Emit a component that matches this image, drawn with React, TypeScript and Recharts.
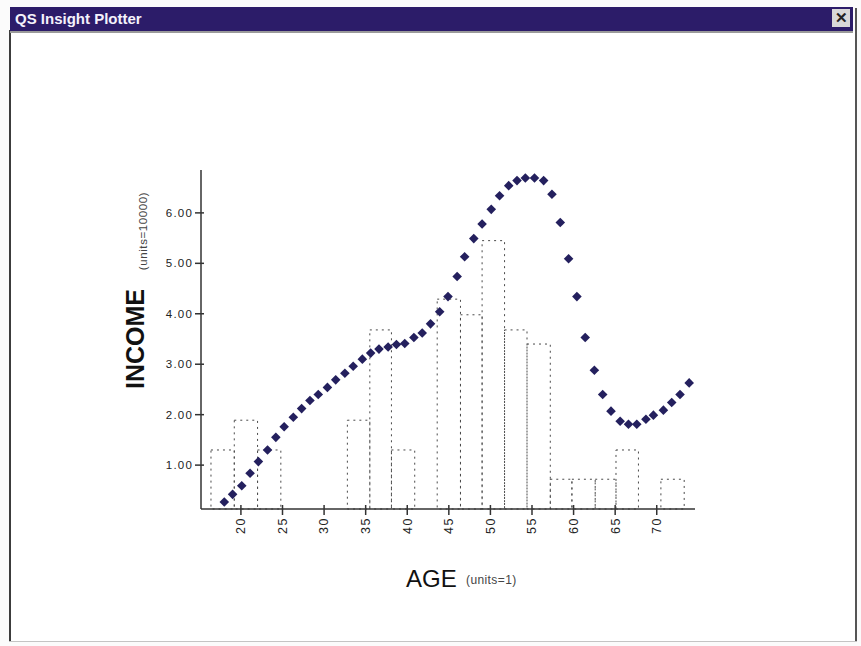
import { ComposedChart, XAxis, YAxis, Scatter, ReferenceArea } from "recharts";

// income curve, one point per year of age
const ages = [
  18.0, 19.0, 20.1, 21.1, 22.1, 23.2, 24.2, 25.2, 26.3, 27.3, 28.3, 29.3, 30.4, 31.4,
  32.5, 33.5, 34.6, 35.6, 36.6, 37.7, 38.7, 39.7, 40.8, 41.8, 42.8, 43.9, 44.9, 46.0,
  46.9, 48.0, 49.0, 50.1, 51.1, 52.2, 53.2, 54.2, 55.3, 56.4, 57.4, 58.4, 59.4, 60.4,
  61.4, 62.5, 63.5, 64.5, 65.6, 66.6, 67.6, 68.7, 69.6, 70.8, 71.8, 72.8, 73.9,
];
const incomes = [
  0.27, 0.42, 0.59, 0.84, 1.07, 1.3, 1.55, 1.76, 1.95, 2.12, 2.28, 2.4, 2.54, 2.69,
  2.82, 2.96, 3.1, 3.22, 3.3, 3.34, 3.39, 3.41, 3.53, 3.62, 3.8, 4.04, 4.34, 4.74,
  5.13, 5.49, 5.78, 6.07, 6.34, 6.54, 6.64, 6.69, 6.69, 6.64, 6.37, 5.81, 5.09, 4.34,
  3.53, 2.88, 2.4, 2.07, 1.87, 1.81, 1.81, 1.91, 1.99, 2.09, 2.24, 2.4, 2.63,
];

// histogram bins (dashed boxes)
const binEdges = [
  16.4, 19.2, 22.0, 24.8, 27.5, 30.1, 32.8, 35.5, 38.1, 40.9, 43.6, 46.4, 49.0, 51.7,
  54.4, 57.2, 59.8, 62.6, 65.1, 67.8, 70.5, 73.3,
];
const binHeights = [
  1.3, 1.89, 1.3, 0, 0, 0, 1.89, 3.68, 1.3, 0, 4.29, 3.98, 5.45, 3.68, 3.4, 0.72, 0.72,
  0.72, 1.3, 0, 0.72,
];

const xTicks = [20, 25, 30, 35, 40, 45, 50, 55, 60, 65, 70];
const yTicks = [1, 2, 3, 4, 5, 6];

const xDomain = [15.2, 74.6];
const yDomain = [0.13, 6.85];

const points = ages.map((age, i) => ({ age, income: incomes[i] }));
const bins = binHeights
  .map((h, i) => ({ x1: binEdges[i], x2: binEdges[i + 1], h }))
  .filter((b) => b.h > 0);

const font = "'Liberation Sans', Arial, Helvetica, sans-serif";
const axisColor = "#333";
const dotColor = "#24205e";

const Diamond = (props: any) => {
  const { cx, cy } = props;
  if (cx == null || cy == null) return null;
  const r = 4.8;
  return (
    <polygon
      points={`${cx},${cy - r} ${cx + r},${cy} ${cx},${cy + r} ${cx - r},${cy}`}
      fill={dotColor}
    />
  );
};

const YTick = (props: any) => {
  const { x, y, payload } = props;
  return (
    <g>
      <line x1={x - 6} x2={x + 3} y1={y} y2={y} stroke={axisColor} strokeWidth={1.5} />
      <text
        x={x - 8}
        y={y}
        dy="0.35em"
        textAnchor="end"
        fontSize={11.5}
        letterSpacing={1.2}
        fill="#222"
        fontFamily={font}
      >
        {payload.value.toFixed(2)}
      </text>
    </g>
  );
};

const XTick = (props: any) => {
  const { x, y, payload } = props;
  return (
    <g>
      <line x1={x} x2={x} y1={y - 4} y2={y + 6} stroke={axisColor} strokeWidth={1.5} />
      <text
        transform={`translate(${x}, ${y + 8}) rotate(-90)`}
        dy="0.35em"
        textAnchor="end"
        fontSize={12.5}
        letterSpacing={1.5}
        fill="#222"
        fontFamily={font}
      >
        {payload.value}
      </text>
    </g>
  );
};

export default function App() {
  return (
    <div
      style={{
        position: "absolute",
        left: 0,
        top: 0,
        width: 861,
        height: 646,
        background: "#fbfbfb",
        overflow: "hidden",
        fontFamily: font,
      }}
    >
      {/* window frame */}
      <div style={{ position: "absolute", left: 10, top: 31, width: 845, height: 610, background: "#fff" }} />
      <div style={{ position: "absolute", left: 9, top: 30, width: 2, height: 612, background: "#3c3c3c" }} />
      <div style={{ position: "absolute", left: 855, top: 8, width: 2, height: 634, background: "#555" }} />
      <div style={{ position: "absolute", left: 9, top: 641, width: 848, height: 1, background: "#c4c4c4" }} />
      <div
        style={{
          position: "absolute",
          left: 10,
          top: 7,
          width: 843,
          height: 24,
          background: "#2c1c69",
          borderBottom: "2px solid #9a9a9a",
        }}
      >
        <span
          style={{
            position: "absolute",
            left: 5,
            top: 3,
            color: "#f4f2fb",
            fontSize: 15,
            fontWeight: 600,
            fontFamily: font,
          }}
        >
          QS Insight Plotter
        </span>
        <div
          style={{
            position: "absolute",
            left: 822,
            top: 2,
            width: 18,
            height: 18,
            background: "#d8d8d8",
            color: "#222",
            fontSize: 15,
            fontWeight: 700,
            lineHeight: "18px",
            textAlign: "center",
          }}
        >
          ✕
        </div>
      </div>

      <div style={{ position: "absolute", left: 0, top: 0 }}>
        <ComposedChart
          width={861}
          height={646}
          data={points}
          margin={{ top: 170, right: 166, bottom: 107, left: 141 }}
        >
          <XAxis
            type="number"
            dataKey="age"
            domain={xDomain}
            ticks={xTicks}
            allowDataOverflow
            height={30}
            axisLine={{ stroke: axisColor, strokeWidth: 1.5 }}
            tickLine={false}
            tickSize={0}
            tickMargin={0}
            tick={<XTick />}
            interval={0}
          />
          <YAxis
            type="number"
            dataKey="income"
            domain={yDomain}
            ticks={yTicks}
            allowDataOverflow
            width={60}
            axisLine={{ stroke: axisColor, strokeWidth: 1.5 }}
            tickLine={false}
            tickSize={0}
            tickMargin={0}
            tick={<YTick />}
            interval={0}
          />
          {bins.map((b, i) => (
            <ReferenceArea
              key={i}
              x1={b.x1}
              x2={b.x2}
              y1={yDomain[0]}
              y2={b.h}
              fill="none"
              stroke="#4a4a4a"
              strokeWidth={1}
              strokeDasharray="2 4"
              ifOverflow="extendDomain"
            />
          ))}
          <Scatter dataKey="income" shape={<Diamond />} isAnimationActive={false} />
        </ComposedChart>
      </div>

      {/* axis titles */}
      <svg
        width={861}
        height={646}
        style={{ position: "absolute", left: 0, top: 0, pointerEvents: "none" }}
      >
        <text
          transform="translate(144, 339) rotate(-90)"
          textAnchor="middle"
          fontSize={25}
          fontWeight={700}
          fill="#111"
          fontFamily={font}
        >
          INCOME
        </text>
        <text
          transform="translate(147, 231) rotate(-90)"
          textAnchor="middle"
          fontSize={11.5}
          letterSpacing={0.6}
          fill="#444"
          fontFamily={font}
        >
          (units=10000)
        </text>
        <text x={406} y={587} fontSize={24} fill="#111" fontFamily={font}>
          AGE
        </text>
        <text x={466} y={584} fontSize={12} letterSpacing={0.4} fill="#444" fontFamily={font}>
          (units=1)
        </text>
      </svg>
    </div>
  );
}
